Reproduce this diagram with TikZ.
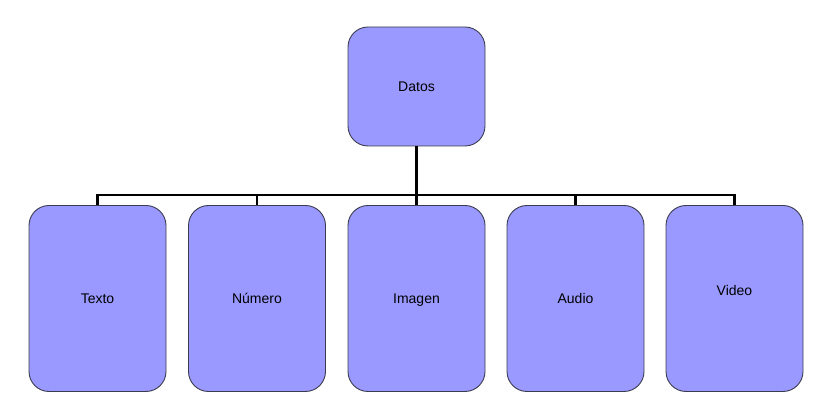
\documentclass[tikz,border=0pt]{standalone}
\usepackage{fontspec}
\setmainfont{Liberation Sans}
\usetikzlibrary{positioning}

\definecolor{boxfill}{HTML}{9999FF}
\definecolor{boxline}{HTML}{3C3C50}

\begin{document}
\begin{tikzpicture}[
  x=1pt, y=1pt,
  databox/.style={draw=boxline, line width=0.9pt, fill=boxfill, minimum width=137pt, rounded corners=20pt, font=\fontsize{14}{16}\selectfont, inner sep=0pt, text height=10pt, text depth=0pt},
  parentbox/.style={databox, minimum height=119pt},
  childbox/.style={databox, minimum height=186pt},
  connector/.style={line width=2.6pt, black}
]

\useasboundingbox (0,0) rectangle (838,419);

\node[parentbox] (datos) at (416.5,332.5) {Datos};

\node[childbox] (texto) at (97.5,120.5) {Texto};
\node[childbox] (numero) at (257,120.5) {Número};
\node[childbox] (imagen) at (416.5,120.5) {Imagen};
\node[childbox] (audio) at (575.5,120.5) {Audio};
\node[childbox, text depth=16pt] (video) at (734.5,120.5) {Video};

\coordinate (bus) at (416.5,224);

\draw[connector] (datos.south) -- (bus);
\draw[connector] (texto.north) |- (bus) -| (video.north);
\draw[connector] (numero.north) -- (numero.north |- bus);
\draw[connector] (imagen.north) -- (bus);
\draw[connector] (audio.north) -- (audio.north |- bus);

\end{tikzpicture}
\end{document}
